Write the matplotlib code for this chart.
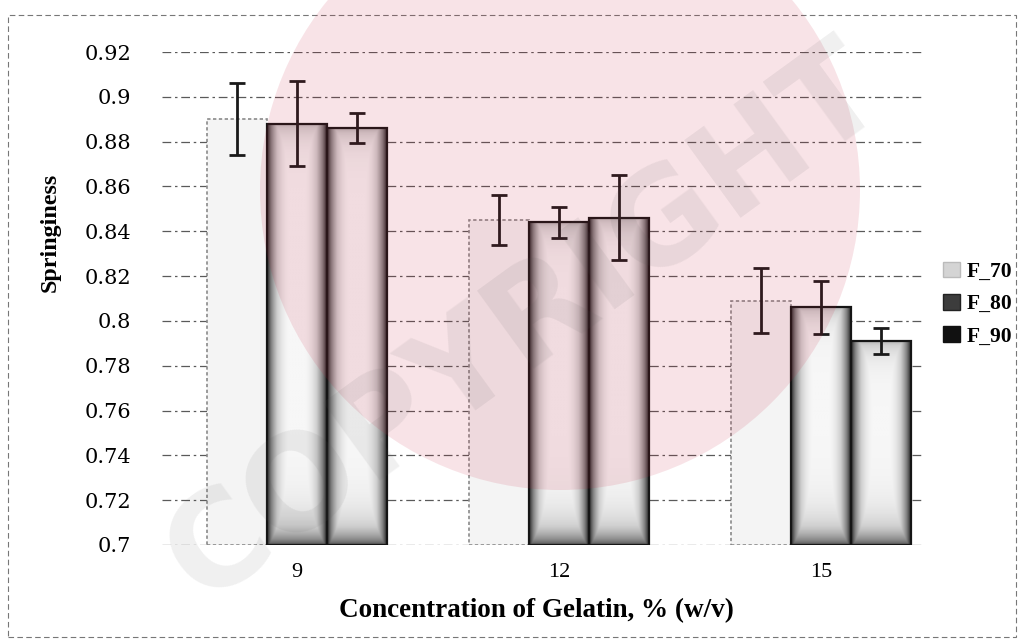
import matplotlib.pyplot as plt
import numpy as np
from matplotlib.patches import Rectangle, Patch, Ellipse
from matplotlib.colors import LinearSegmentedColormap

# Springiness of gelatin gels by concentration and formulation
concentrations = ["9", "12", "15"]
series = ["F_70", "F_80", "F_90"]
springiness = {
    "F_70": [0.890, 0.845, 0.809],
    "F_80": [0.888, 0.844, 0.806],
    "F_90": [0.886, 0.846, 0.791],
}
std_err = {
    "F_70": [0.016, 0.011, 0.0145],
    "F_80": [0.019, 0.007, 0.012],
    "F_90": [0.0067, 0.019, 0.0058],
}

serif = "Liberation Serif"
W, H = 1019, 640
fig = plt.figure(figsize=(W / 100, H / 100), dpi=100)
fig.patch.set_facecolor("white")
ax = fig.add_axes([162 / W, 1 - 545 / H, (923 - 162) / W, (545 - 52) / H])
ax.set_facecolor("none")

ymin, ymax = 0.7, 0.92
ax.set_yticks(np.arange(0.70, 0.9201, 0.02))
ax.set_yticklabels(["0.7", "0.72", "0.74", "0.76", "0.78", "0.8", "0.82",
                    "0.84", "0.86", "0.88", "0.9", "0.92"],
                   family="DejaVu Serif", fontsize=15)
ax.set_xticks(range(len(concentrations)))
ax.set_xticklabels(concentrations, family=serif, fontsize=16)
ax.tick_params(length=0, axis="y", pad=22)
ax.tick_params(length=0, axis="x", pad=13)
for s in ax.spines.values():
    s.set_visible(False)
ax.yaxis.grid(True, linestyle=(0, (7, 3, 2, 3)), color="#5a5a5a", linewidth=0.9)
ax.set_axisbelow(True)

shade = LinearSegmentedColormap.from_list("shade", ["#f7f7f7", "#d0d0d0", "#8a8a8a", "#303030"])
width = 0.229
x = np.arange(len(concentrations))
offsets = [-width, 0, width]

for name, off in zip(series, offsets):
    vals = springiness[name]
    errs = std_err[name]
    for xi, v in zip(x + off, vals):
        x0, x1 = xi - width / 2, xi + width / 2
        if name == "F_70":
            ax.add_patch(Rectangle((x0, ymin), width, v - ymin, facecolor="#f4f4f4",
                                   edgecolor="#8a8a8a", linestyle=(0, (2, 1.5)),
                                   linewidth=1.2, zorder=2))
        else:
            # gradient fill: dark edges, pale centre, darker toward the base
            u = np.linspace(0, 1, 80)
            yy = np.linspace(ymin, v, 300)
            U, Y = np.meshgrid(u, yy)
            side = np.clip((np.abs(U - 0.5) * 2 - 0.25) / 0.75, 0, 1) ** 1.8
            base = np.exp(-(Y - ymin) / 0.009)
            top = np.exp(-(v - Y) / 0.006) * 0.45
            z = np.clip(np.maximum.reduce([side, base * 0.85, top]), 0, 1)
            ax.imshow(z, extent=[x0, x1, ymin, v], origin="lower", aspect="auto",
                      cmap=shade, vmin=0, vmax=1, zorder=2, interpolation="bilinear")
            ax.add_patch(Rectangle((x0, ymin), width, v - ymin, fill=False,
                                   edgecolor="#151515", linewidth=1.6, zorder=3))
    ax.errorbar(x + off, vals, yerr=errs, fmt="none", ecolor="#1a1a1a",
                elinewidth=2, capsize=6, capthick=2, zorder=4)

ax.set_xlim(-0.515, 2.39)
ax.set_ylim(ymin, ymax)

fig.text(50 / W, 1 - 232 / H, "Springiness", rotation=90, ha="center", va="center",
         family=serif, fontweight="bold", fontsize=17.3)
fig.text(536 / W, 1 - 611 / H, "Concentration of Gelatin, % (w/v)", ha="center",
         va="center", family=serif, fontweight="bold", fontsize=19.5)

handles = [Patch(facecolor="#d4d4d4", edgecolor="#bbbbbb"),
           Patch(facecolor="#3c3c3c", edgecolor="#222222"),
           Patch(facecolor="#111111", edgecolor="#111111")]
fig.legend(handles, series, loc="center left", bbox_to_anchor=(924 / W, 1 - 304 / H),
           frameon=False, prop={"family": serif, "weight": "bold", "size": 15.5},
           handlelength=0.75, handleheight=0.75, handletextpad=0.35, labelspacing=0.55)

# dashed chart border
fig.add_artist(Rectangle((8 / W, 1 - 637 / H), 1008 / W, 622 / H, transform=fig.transFigure,
                         fill=False, edgecolor="#777777", linestyle=(0, (5, 3)),
                         linewidth=0.8))

# watermark overlay
fig.add_artist(Ellipse((560 / W, 1 - 190 / H), 600 / W, 600 / H, transform=fig.transFigure,
                       facecolor="#c81e3c", alpha=0.12, edgecolor="none", zorder=10))
fig.text(525 / W, 1 - 325 / H, "COPYRIGHT", rotation=36, ha="center", va="center",
         fontsize=94, fontweight="bold", family="DejaVu Sans", color="#555555",
         alpha=0.09, zorder=11)

fig.savefig("out.png", dpi=100)
